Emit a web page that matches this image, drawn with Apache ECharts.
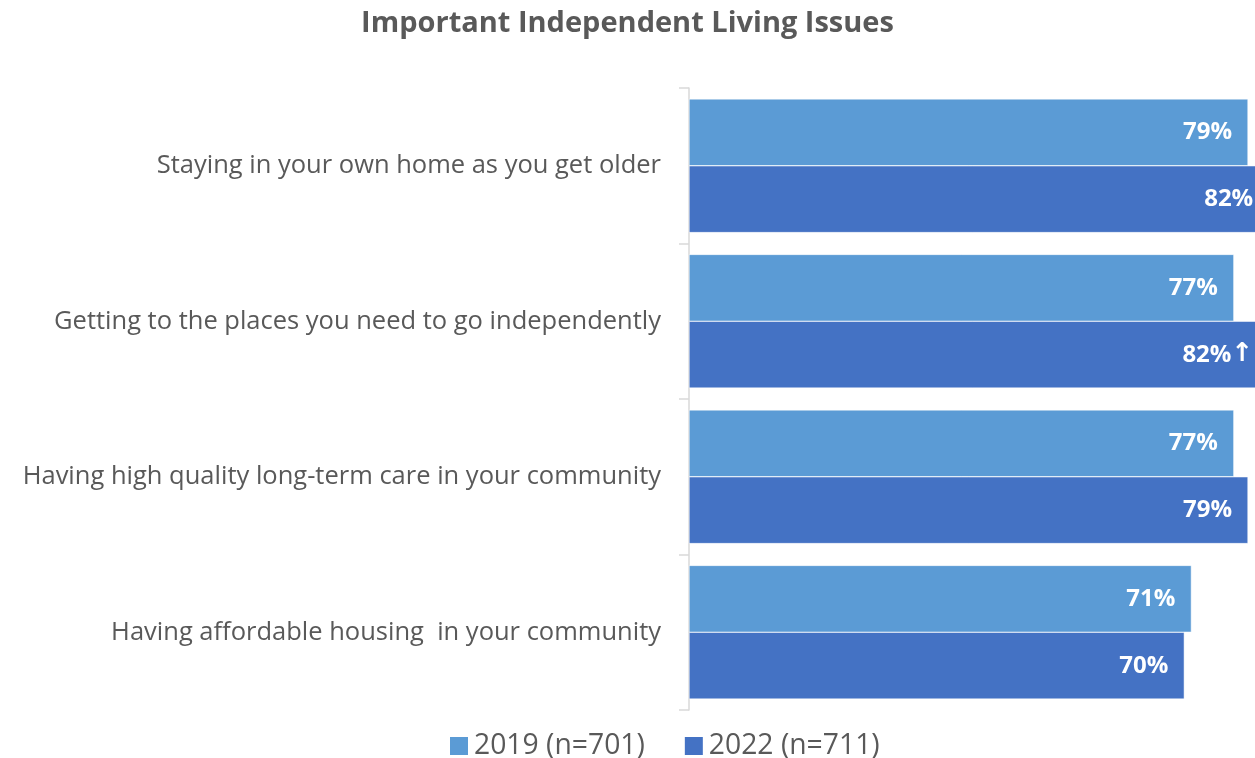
<!DOCTYPE html>
<html><head><meta charset="utf-8">
<script src="https://cdn.jsdelivr.net/npm/echarts@6/dist/echarts.min.js"></script>
<style>html,body{margin:0;padding:0;background:#fff}#c{width:1255px;height:758px}</style>
</head><body><div id="c"></div>
<script>
const categories = [
  "Staying in your own home as you get older",
  "Getting to the places you need to go independently",
  "Having high quality long-term care in your community",
  "Having affordable housing  in your community"
];
const values2019 = [79, 77, 77, 71];
const values2022 = [82, 82, 79, 70];
const labelSuffix2022 = ["", "↑", "", ""];
const seriesNames = ["2019 (n=701)", "2022 (n=711)"];
const titleText = "Important Independent Living Issues";

const FONT = "'Open Sans', sans-serif";
const chart = echarts.init(document.getElementById('c'), null, {renderer: 'canvas'});
const labelStyle = {
  show: true, position: 'insideRight', distance: 16,
  color: '#fff', fontWeight: 'bold', fontSize: 24, fontFamily: FONT,
  rich: {
    arr: {color: '#fff', fontWeight: 'bold', fontSize: 26, fontFamily: "'DejaVu Sans', sans-serif"}
  }
};
chart.setOption({
  animation: false,
  title: {
    text: titleText, left: 'center', top: 4,
    textStyle: {fontFamily: FONT, fontWeight: 'bold', fontSize: 29, color: '#595959'}
  },
  legend: {
    bottom: -3, left: 448, padding: 0, icon: 'rect', itemWidth: 20, itemHeight: 20, itemGap: 38,
    textStyle: {fontFamily: FONT, fontSize: 28.3, color: '#595959', lineHeight: 30},
    data: seriesNames
  },
  grid: {left: 689, top: 88, bottom: 48, right: -141.6, outerBoundsMode: 'none', containLabel: false},
  xAxis: {type: 'value', min: 0, max: 100, show: false},
  yAxis: {
    type: 'category', data: categories, inverse: true,
    axisLine: {show: true, lineStyle: {color: '#d9d9d9', width: 1.5}},
    axisTick: {show: true, length: 10, lineStyle: {color: '#d9d9d9', width: 1.5}},
    axisLabel: {margin: 28, fontFamily: FONT, fontSize: 25.5, color: '#595959'}
  },
  series: [
    {
      name: seriesNames[0], type: 'bar', data: values2019,
      barGap: '0%', barCategoryGap: '14%',
      itemStyle: {color: '#5B9BD5', borderColor: '#ffffff', borderWidth: 0.5},
      label: Object.assign({}, labelStyle, {formatter: p => p.value + '%'})
    },
    {
      name: seriesNames[1], type: 'bar', data: values2022,
      barGap: '0%', barCategoryGap: '14%',
      itemStyle: {color: '#4472C4', borderColor: '#ffffff', borderWidth: 0.5},
      label: Object.assign({}, labelStyle, {
        formatter: p => p.value + '%' + (labelSuffix2022[p.dataIndex] ? '{arr|' + labelSuffix2022[p.dataIndex] + '}' : '')
      })
    }
  ]
});
</script></body></html>
